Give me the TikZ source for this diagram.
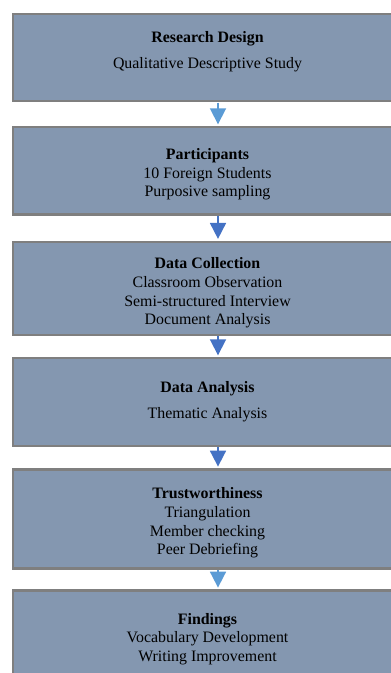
\documentclass[tikz,border=0pt]{standalone}
\usepackage{fontspec}
\setmainfont{Liberation Serif}
\usetikzlibrary{arrows.meta}
\definecolor{boxfill}{HTML}{8497B0}
\definecolor{boxline}{HTML}{7F7F7F}
\definecolor{arrlight}{HTML}{5B9BD5}
\definecolor{arrdark}{HTML}{4472C4}
\begin{document}
\begin{tikzpicture}[x=1pt,y=-1pt,
  stage/.style={rectangle, draw=boxline, fill=boxfill, line width=2.3pt,
    anchor=north west, minimum width=389.4pt, inner sep=0pt, outer sep=0pt},
  stagetext/.style={align=center, inner sep=0pt, text=black,
    font=\fontsize{15.9pt}{18.6pt}\selectfont},
  flow/.style={line width=1.8pt, -{Triangle[length=16pt,width=16pt]},
    shorten >=2.9pt, shorten <=1.2pt}]
  \useasboundingbox (0,0) rectangle (391,673);
  \clip (0,0) rectangle (391,673);

  % stage boxes
  \node[stage, minimum height=87.5pt] (s1) at (12.8,13.8) {};
  \node[stage, minimum height=87.3pt] (s2) at (12.8,127.2) {};
  \node[stage, minimum height=93pt]   (s3) at (12.8,241.8) {};
  \node[stage, minimum height=88pt]   (s4) at (12.8,358.2) {};
  \node[stage, minimum height=99pt]   (s5) at (12.8,469.5) {};
  \node[stage, minimum height=120pt]  (s6) at (12.8,590.5) {};

  % stage texts
  \node[stagetext] (t1) at (207.5,51.5) {\textbf{Research Design}\\[7.5pt]Qualitative Descriptive Study};
  \node[stagetext] (t2) at (207.5,174.5) {\textbf{Participants}\\10 Foreign Students\\Purposive sampling};
  \node[stagetext] (t3) at (207.5,293) {\textbf{Data Collection}\\Classroom Observation\\Semi-structured Interview\\Document Analysis};
  \node[stagetext] (t4) at (207.5,401.5) {\textbf{Data Analysis}\\[7.5pt]Thematic Analysis};
  \node[stagetext] (t5) at (207.5,523) {\textbf{Trustworthiness}\\Triangulation\\Member checking\\Peer Debriefing};
  \node[stagetext] (t6) at (207.5,638.8) {\textbf{Findings}\\Vocabulary Development\\Writing Improvement};

  % connectors
  \coordinate (ax) at (218,0);
  \draw[flow, arrlight] (s1.south -| ax) -- (s2.north -| ax);
  \draw[flow, arrdark]  (s2.south -| ax) -- (s3.north -| ax);
  \draw[flow, arrdark]  (s3.south -| ax) -- (s4.north -| ax);
  \draw[flow, arrdark]  (s4.south -| ax) -- (s5.north -| ax);
  \draw[flow, arrlight] (s5.south -| ax) -- (s6.north -| ax);
\end{tikzpicture}
\end{document}
